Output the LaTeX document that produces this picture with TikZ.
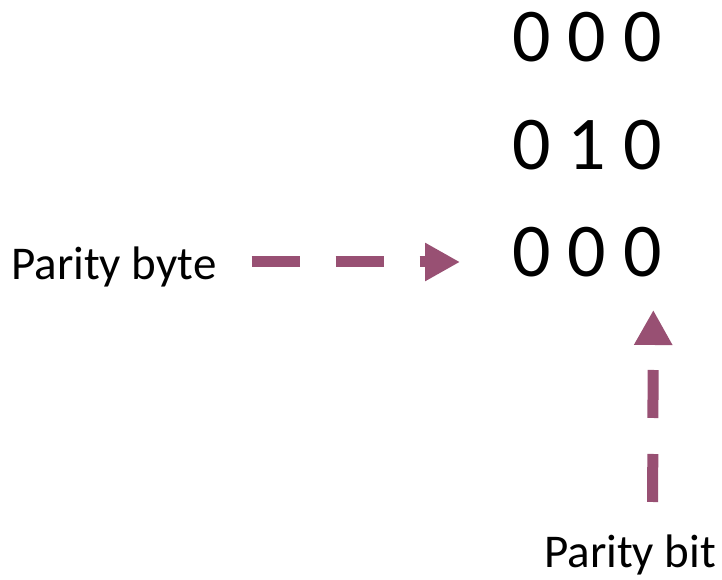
\documentclass[tikz,border=0pt]{standalone}
\usepackage{fontspec}
\setmainfont{Carlito}
\usepackage{xcolor}
\usetikzlibrary{arrows.meta, positioning}
\definecolor{paritypurple}{RGB}{152,80,115}

\begin{document}
\begin{tikzpicture}[
    x=1pt, y=1pt,
    bits/.style={inner sep=0pt, anchor=base west, font=\fontsize{76}{80}\selectfont},
    label/.style={inner sep=0pt, font=\fontsize{47}{52}\selectfont},
    arrow/.style={-{Triangle[length=35pt, width=36pt]}, line width=11pt,
                  dash pattern=on 48pt off 36pt, color=paritypurple},
]
\useasboundingbox (0,0) rectangle (722,580);

% bit matrix
\node[bits] (row1) at (512,518) {0 0 0};
\node[bits] (row2) at (512,410) {0 1 0};
\node[bits] (row3) at (512,303) {0 0 0};

% labels
\node[label, anchor=base west] (byte) at (11,300) {Parity byte};
\node[label, anchor=base west] (bit) at (544,12) {Parity bit};

% arrows
\draw[arrow] ([shift={(35pt,18pt)}]byte.base east) -- ([shift={(-52pt,15pt)}]row3.base west);
\draw[arrow] ([shift={(22.5pt,66pt)}]bit.base) -- ([shift={(-9pt,-33pt)}]row3.base east);

\end{tikzpicture}
\end{document}
